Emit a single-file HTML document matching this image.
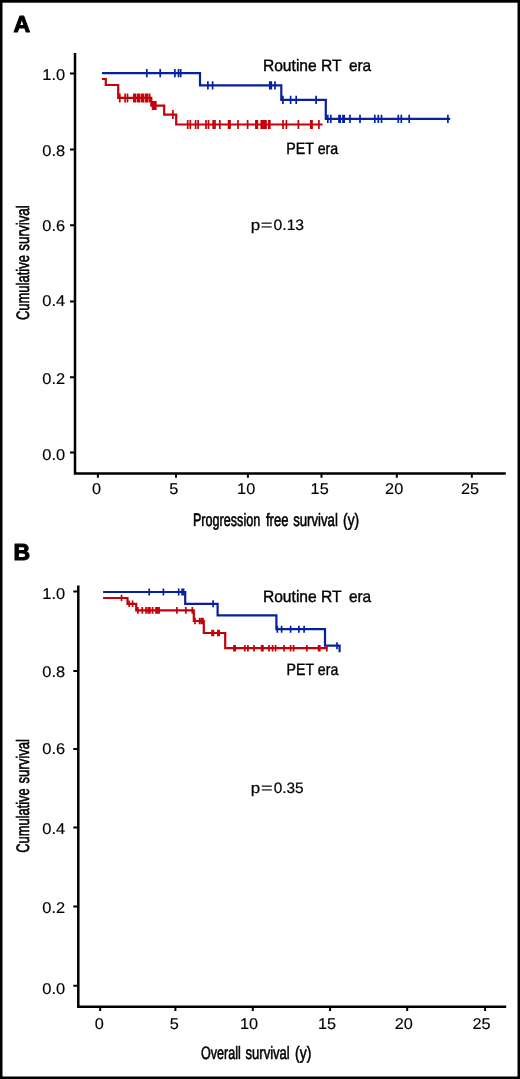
<!DOCTYPE html>
<html><head><meta charset="utf-8"><title>Survival curves</title>
<style>html,body{margin:0;padding:0;background:#fff;width:520px;height:1079px;overflow:hidden;font-family:"Liberation Sans",sans-serif;}</style>
</head><body>
<svg width="520" height="1079" viewBox="0 0 520 1079" font-family="Liberation Sans, sans-serif" text-rendering="geometricPrecision" style="display:block;filter:blur(0.4px)">
<rect x="0" y="0" width="520" height="1079" fill="#000"/>
<rect x="2.5" y="2.7" width="515" height="1073.8" fill="#fff"/>
<text x="13.4" y="32.1" font-weight="bold" font-size="23" stroke="#000" stroke-width="1.1" stroke-linejoin="round">A</text>
<path d="M75.0,52.9V473.5H505.8" fill="none" stroke="#000" stroke-width="2.5"/>
<path d="M70.0,73.6H75.0M70.0,149.6H75.0M70.0,225.2H75.0M70.0,301.4H75.0M70.0,377.2H75.0M70.0,452.6H75.0M97.9,473.5V477.8M176.0,473.5V477.8M247.9,473.5V477.8M321.5,473.5V477.8M396.8,473.5V477.8M471.8,473.5V477.8" stroke="#000" stroke-width="2" fill="none"/>
<text transform="translate(65.2,80.20) scale(1.06,1)" text-anchor="end" font-size="15.5" stroke="#000" stroke-width="0.15">1.0</text>
<text transform="translate(65.2,156.25) scale(1.06,1)" text-anchor="end" font-size="15.5" stroke="#000" stroke-width="0.15">0.8</text>
<text transform="translate(65.2,231.25) scale(1.06,1)" text-anchor="end" font-size="15.5" stroke="#000" stroke-width="0.15">0.6</text>
<text transform="translate(65.2,306.35) scale(1.06,1)" text-anchor="end" font-size="15.5" stroke="#000" stroke-width="0.15">0.4</text>
<text transform="translate(65.2,384.40) scale(1.06,1)" text-anchor="end" font-size="15.5" stroke="#000" stroke-width="0.15">0.2</text>
<text transform="translate(65.2,460.25) scale(1.06,1)" text-anchor="end" font-size="15.5" stroke="#000" stroke-width="0.15">0.0</text>
<text transform="translate(96.50,494.15) scale(1.05,1)" text-anchor="middle" font-size="15.5" stroke="#000" stroke-width="0.15">0</text>
<text transform="translate(173.90,494.15) scale(1.05,1)" text-anchor="middle" font-size="15.5" stroke="#000" stroke-width="0.15">5</text>
<text transform="translate(246.15,494.15) scale(1.05,1)" text-anchor="middle" font-size="15.5" stroke="#000" stroke-width="0.15">10</text>
<text transform="translate(319.65,494.15) scale(1.05,1)" text-anchor="middle" font-size="15.5" stroke="#000" stroke-width="0.15">15</text>
<text transform="translate(394.15,494.15) scale(1.05,1)" text-anchor="middle" font-size="15.5" stroke="#000" stroke-width="0.15">20</text>
<text transform="translate(470.00,494.15) scale(1.05,1)" text-anchor="middle" font-size="15.5" stroke="#000" stroke-width="0.15">25</text>
<path d="M102.0,73.2H200.0V85.3H281.3V99.8H325.8V118.8H450.2" fill="none" stroke="#0620a4" stroke-width="2.20"/>
<path d="M146.80,69.10V77.30M160.20,69.10V77.30M174.90,69.10V77.30M178.50,69.10V77.30M180.70,69.10V77.30M207.90,81.20V89.40M212.60,81.20V89.40M269.80,81.20V89.40M271.30,81.20V89.40M275.00,81.20V89.40M282.90,95.70V103.90M290.60,95.70V103.90M296.20,95.70V103.90M316.10,95.70V103.90M327.80,114.70V122.90M330.80,114.70V122.90M339.00,114.70V122.90M340.20,114.70V122.90M343.00,114.70V122.90M344.20,114.70V122.90M350.00,114.70V122.90M360.00,114.70V122.90M374.80,114.70V122.90M378.30,114.70V122.90M381.50,114.70V122.90M398.30,114.70V122.90M401.30,114.70V122.90M409.20,114.70V122.90M447.90,114.70V122.90" fill="none" stroke="#0620a4" stroke-width="1.70"/>
<path d="M102.0,79.0H105.8V85.0H118.2V97.9H151.3V105.6H164.2V114.6H176.2V124.5H322.5" fill="none" stroke="#c60008" stroke-width="2.20"/>
<path d="M119.80,93.40V102.40M125.10,93.40V102.40M127.50,93.40V102.40M133.90,93.40V102.40M135.60,93.40V102.40M137.90,93.40V102.40M139.60,93.40V102.40M141.90,93.40V102.40M143.60,93.40V102.40M145.90,93.40V102.40M147.60,93.40V102.40M149.70,93.40V102.40M152.60,101.10V110.10M154.20,101.10V110.10M155.80,101.10V110.10M172.90,110.10V119.10M187.70,120.00V129.00M190.30,120.00V129.00M195.60,120.00V129.00M198.10,120.00V129.00M206.00,120.00V129.00M208.50,120.00V129.00M213.20,120.00V129.00M215.00,120.00V129.00M219.80,120.00V129.00M228.60,120.00V129.00M230.00,120.00V129.00M238.00,120.00V129.00M247.60,120.00V129.00M255.90,120.00V129.00M257.30,120.00V129.00M261.30,120.00V129.00M262.80,120.00V129.00M264.30,120.00V129.00M266.00,120.00V129.00M268.80,120.00V129.00M269.80,120.00V129.00M283.00,120.00V129.00M286.40,120.00V129.00M298.40,120.00V129.00M310.80,120.00V129.00M312.00,120.00V129.00M318.90,120.00V129.00" fill="none" stroke="#c60008" stroke-width="1.70"/>
<text x="13.5" y="559.6" font-weight="bold" font-size="23" stroke="#000" stroke-width="1.1" stroke-linejoin="round">B</text>
<path d="M78.3,585.6V1006.7H506.2" fill="none" stroke="#000" stroke-width="2.5"/>
<path d="M73.3,591.5H78.3M73.3,671.1H78.3M73.3,749.1H78.3M73.3,827.6H78.3M73.3,906.5H78.3M73.3,985.7H78.3M100.2,1006.7V1011.0M175.4,1006.7V1011.0M252.8,1006.7V1011.0M330.1,1006.7V1011.0M407.2,1006.7V1011.0M485.1,1006.7V1011.0" stroke="#000" stroke-width="2" fill="none"/>
<text transform="translate(65.2,598.70) scale(1.06,1)" text-anchor="end" font-size="15.5" stroke="#000" stroke-width="0.15">1.0</text>
<text transform="translate(65.2,677.40) scale(1.06,1)" text-anchor="end" font-size="15.5" stroke="#000" stroke-width="0.15">0.8</text>
<text transform="translate(65.2,754.35) scale(1.06,1)" text-anchor="end" font-size="15.5" stroke="#000" stroke-width="0.15">0.6</text>
<text transform="translate(65.2,834.40) scale(1.06,1)" text-anchor="end" font-size="15.5" stroke="#000" stroke-width="0.15">0.4</text>
<text transform="translate(65.2,913.40) scale(1.06,1)" text-anchor="end" font-size="15.5" stroke="#000" stroke-width="0.15">0.2</text>
<text transform="translate(65.2,993.55) scale(1.06,1)" text-anchor="end" font-size="15.5" stroke="#000" stroke-width="0.15">0.0</text>
<text transform="translate(99.40,1029.45) scale(1.05,1)" text-anchor="middle" font-size="15.5" stroke="#000" stroke-width="0.15">0</text>
<text transform="translate(174.40,1029.45) scale(1.05,1)" text-anchor="middle" font-size="15.5" stroke="#000" stroke-width="0.15">5</text>
<text transform="translate(249.10,1029.45) scale(1.05,1)" text-anchor="middle" font-size="15.5" stroke="#000" stroke-width="0.15">10</text>
<text transform="translate(327.10,1029.45) scale(1.05,1)" text-anchor="middle" font-size="15.5" stroke="#000" stroke-width="0.15">15</text>
<text transform="translate(403.70,1029.45) scale(1.05,1)" text-anchor="middle" font-size="15.5" stroke="#000" stroke-width="0.15">20</text>
<text transform="translate(481.50,1029.45) scale(1.05,1)" text-anchor="middle" font-size="15.5" stroke="#000" stroke-width="0.15">25</text>
<path d="M103.1,592.0H185.2V603.8H217.6V615.3H276.4V629.2H325.0V645.7H339.6V652.3" fill="none" stroke="#0620a4" stroke-width="2.20"/>
<path d="M149.20,588.50V595.50M163.40,588.50V595.50M178.70,588.50V595.50M182.10,588.50V595.50M183.60,588.50V595.50M213.10,600.30V607.30M277.30,625.70V632.70M281.60,625.70V632.70M290.60,625.70V632.70M298.90,625.70V632.70M304.10,625.70V632.70M337.00,642.20V649.20" fill="none" stroke="#0620a4" stroke-width="1.70"/>
<path d="M103.1,598.0H127.5V603.8H136.2V610.4H193.8V621.0H203.8V633.0H225.2V648.2H327.5" fill="none" stroke="#c60008" stroke-width="2.20"/>
<path d="M121.50,594.70V601.30M129.20,600.50V607.10M132.60,600.50V607.10M137.90,607.10V613.70M142.30,607.10V613.70M146.00,607.10V613.70M148.20,607.10V613.70M149.90,607.10V613.70M152.60,607.10V613.70M156.00,607.10V613.70M157.50,607.10V613.70M159.10,607.10V613.70M176.90,607.10V613.70M185.80,607.10V613.70M192.30,607.10V613.70M195.00,617.70V624.30M199.60,617.70V624.30M201.50,617.70V624.30M203.00,617.70V624.30M212.10,629.70V636.30M213.40,629.70V636.30M217.90,629.70V636.30M219.20,629.70V636.30M234.00,644.90V651.50M235.20,644.90V651.50M244.80,644.90V651.50M247.90,644.90V651.50M254.00,644.90V651.50M261.70,644.90V651.50M262.90,644.90V651.50M269.00,644.90V651.50M272.60,644.90V651.50M275.60,644.90V651.50M284.10,644.90V651.50M290.60,644.90V651.50M293.60,644.90V651.50M306.80,644.90V651.50M318.60,644.90V651.50M319.80,644.90V651.50M326.80,644.90V651.50" fill="none" stroke="#c60008" stroke-width="1.70"/>
<text id="A_prog" x="192.95" y="525.60" font-size="18.0" stroke="#000" stroke-width="0.60" textLength="67.29" lengthAdjust="spacingAndGlyphs">Progression</text>
<text id="A_free" x="265.97" y="525.60" font-size="18.0" stroke="#000" stroke-width="0.60" textLength="22.49" lengthAdjust="spacingAndGlyphs">free</text>
<text id="A_surv" x="293.21" y="525.60" font-size="18.0" stroke="#000" stroke-width="0.60" textLength="44.65" lengthAdjust="spacingAndGlyphs">survival</text>
<text id="A_y" x="343.11" y="525.60" font-size="18.0" stroke="#000" stroke-width="0.60" textLength="16.04" lengthAdjust="spacingAndGlyphs">(y)</text>
<text id="A_cum" transform="translate(29.40,320.05) rotate(-90)" font-size="18.0" stroke="#000" stroke-width="0.60" textLength="64.95" lengthAdjust="spacingAndGlyphs">Cumulative</text>
<text id="A_cs" transform="translate(29.40,250.72) rotate(-90)" font-size="18.0" stroke="#000" stroke-width="0.60" textLength="45.52" lengthAdjust="spacingAndGlyphs">survival</text>
<text id="A_rout" x="262.91" y="71.00" font-size="16.5" stroke="#000" stroke-width="0.40" textLength="78.72" lengthAdjust="spacingAndGlyphs">Routine RT</text>
<text id="A_era1" x="348.88" y="71.00" font-size="16.5" stroke="#000" stroke-width="0.40" textLength="22.29" lengthAdjust="spacingAndGlyphs">era</text>
<text id="A_pet" x="286.32" y="153.80" font-size="16.5" stroke="#000" stroke-width="0.40" textLength="51.92" lengthAdjust="spacingAndGlyphs">PET era</text>
<text id="A_p" x="250.76" y="230.30" font-size="15.0" stroke="#000" stroke-width="0.20" textLength="9.44" lengthAdjust="spacingAndGlyphs">p</text>
<text id="A_peq" x="260.81" y="230.30" font-size="15.0" stroke="#000" stroke-width="0.20" textLength="11.71" lengthAdjust="spacingAndGlyphs">=</text>
<text id="A_pn" x="273.54" y="230.30" font-size="15.0" stroke="#000" stroke-width="0.20" textLength="30.58" lengthAdjust="spacingAndGlyphs">0.13</text>
<text id="B_over" x="201.08" y="1059.40" font-size="18.0" stroke="#000" stroke-width="0.60" textLength="39.74" lengthAdjust="spacingAndGlyphs">Overall</text>
<text id="B_surv" x="245.49" y="1059.40" font-size="18.0" stroke="#000" stroke-width="0.60" textLength="44.27" lengthAdjust="spacingAndGlyphs">survival</text>
<text id="B_y" x="295.08" y="1059.40" font-size="18.0" stroke="#000" stroke-width="0.60" textLength="16.19" lengthAdjust="spacingAndGlyphs">(y)</text>
<text id="B_cum" transform="translate(29.40,852.84) rotate(-90)" font-size="18.0" stroke="#000" stroke-width="0.60" textLength="64.58" lengthAdjust="spacingAndGlyphs">Cumulative</text>
<text id="B_cs" transform="translate(29.40,783.62) rotate(-90)" font-size="18.0" stroke="#000" stroke-width="0.60" textLength="44.63" lengthAdjust="spacingAndGlyphs">survival</text>
<text id="B_rout" x="262.91" y="602.30" font-size="16.5" stroke="#000" stroke-width="0.40" textLength="78.72" lengthAdjust="spacingAndGlyphs">Routine RT</text>
<text id="B_era1" x="348.88" y="602.30" font-size="16.5" stroke="#000" stroke-width="0.40" textLength="22.29" lengthAdjust="spacingAndGlyphs">era</text>
<text id="B_pet" x="286.58" y="675.00" font-size="16.5" stroke="#000" stroke-width="0.40" textLength="51.70" lengthAdjust="spacingAndGlyphs">PET era</text>
<text id="B_p" x="250.76" y="793.30" font-size="15.0" stroke="#000" stroke-width="0.20" textLength="9.44" lengthAdjust="spacingAndGlyphs">p</text>
<text id="B_peq" x="261.09" y="793.30" font-size="15.0" stroke="#000" stroke-width="0.20" textLength="11.59" lengthAdjust="spacingAndGlyphs">=</text>
<text id="B_pn" x="273.70" y="793.30" font-size="15.0" stroke="#000" stroke-width="0.20" textLength="29.92" lengthAdjust="spacingAndGlyphs">0.35</text>
</svg>
</body></html>
